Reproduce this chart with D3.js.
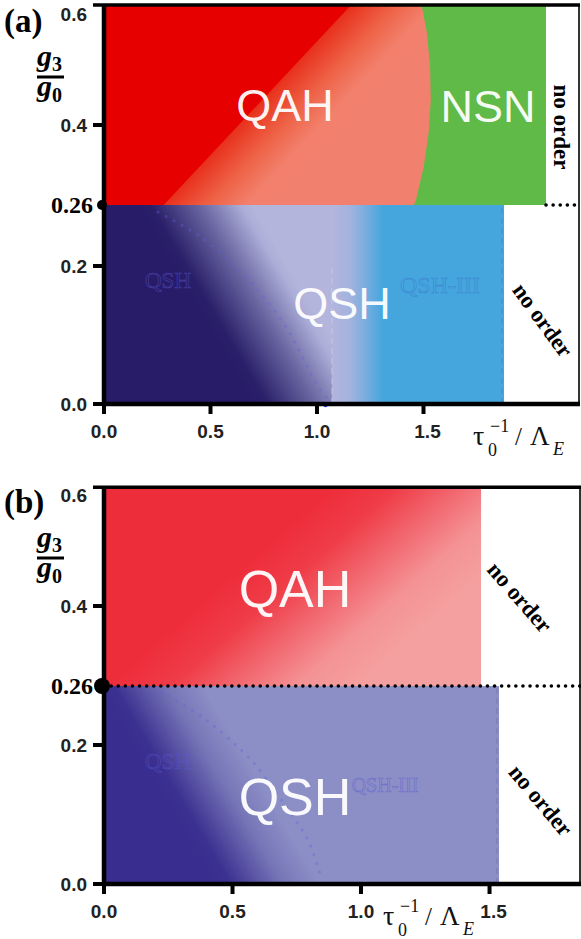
<!DOCTYPE html>
<meta charset="utf-8">
<style>
body { margin: 0; background: #fff; }
text { font-family: "Liberation Sans", Arial, sans-serif; }
.serif { font-family: "Liberation Serif", "Times New Roman", serif; }
</style>
<body>
<svg id="chart" width="581" height="939"></svg>
<script src="https://cdn.jsdelivr.net/npm/d3@7"></script>
<script>

// tick values shared by both panels
var xTicks = [0, 0.5, 1.0, 1.5];
var yTicks = [0, 0.2, 0.4, 0.6];
var gCrit = 0.26;

// panel (a): phase boundaries
var aRedEdge = [[0.28, 0.26], [1.16, 0.616]];
var aQahNsnEdge = [[1.455, 0.26], [1.465, 0.269], [1.501, 0.327], [1.524, 0.386],
                   [1.534, 0.445], [1.531, 0.505], [1.516, 0.566], [1.496, 0.607], [1.49, 0.616]];
var aNsnEnd = 2.075;
var aQshEnd = 1.07;
var aQsh3Full = 1.31;
var aQsh3End = 1.878;
var aQshDots = [[0.254, 0.253], [0.408, 0.235], [0.502, 0.221], [0.634, 0.194], [0.751, 0.155],
                [0.864, 0.107], [0.939, 0.064], [1.005, 0.025], [1.056, 0.006]];

// panel (b)
var bQahEnd = 1.467;
var bQshEnd = 1.537;
var bQshDots = [[0.222, 0.254], [0.389, 0.227], [0.533, 0.193], [0.599, 0.167],
                [0.739, 0.095], [0.794, 0.063], [0.844, 0.01]];

var svg = d3.select("#chart");
var defs = svg.append("defs");

function gradient(id, p0, p1, stops) {
  var g = defs.append("linearGradient").attr("id", id)
    .attr("gradientUnits", "userSpaceOnUse")
    .attr("x1", p0[0]).attr("y1", p0[1]).attr("x2", p1[0]).attr("y2", p1[1]);
  stops.forEach(function(s) {
    g.append("stop").attr("offset", s[0]).attr("stop-color", s[1]);
  });
}

function makeScales(p) {
  var x = d3.scaleLinear().domain([0, p.xMax]).range(p.xRange);
  var y = d3.scaleLinear().domain([0, 0.2, 0.26, 0.4, 0.6]).range(p.yRange);
  return {x: x, y: y};
}

var line = function(s) {
  return d3.line().x(function(d) { return s.x(d[0]); }).y(function(d) { return s.y(d[1]); });
};

function rect(g, s, x0, x1, y0, y1, fill) {
  g.append("rect")
    .attr("x", s.x(x0)).attr("width", s.x(x1) - s.x(x0))
    .attr("y", s.y(y1)).attr("height", s.y(y0) - s.y(y1))
    .attr("fill", fill);
}

function frame(g, s, p) {
  var x0 = s.x(0), x1 = s.x(p.xMax), y0 = s.y(0), yTop = s.y(p.yMax);

  // dotted line at g3/g0 = 0.26
  g.append("line")
    .attr("x1", s.x(p.dotFrom)).attr("x2", x1)
    .attr("y1", s.y(gCrit)).attr("y2", s.y(gCrit))
    .attr("stroke", "#000").attr("stroke-width", 3.5)
    .attr("stroke-linecap", "round").attr("stroke-dasharray", "0.1 7");

  // frame
  g.append("line").attr("x1", x1).attr("x2", x1).attr("y1", yTop).attr("y2", y0)
    .attr("stroke", "#000").attr("stroke-width", 1.6);
  g.append("line").attr("x1", x0 - 11).attr("x2", x1 + 1).attr("y1", yTop).attr("y2", yTop)
    .attr("stroke", "#000").attr("stroke-width", 3.5);
  g.append("line").attr("x1", x0).attr("x2", x0).attr("y1", yTop).attr("y2", y0 + 2)
    .attr("stroke", "#000").attr("stroke-width", 4.5);
  g.append("line").attr("x1", x0 - 2).attr("x2", x1 + 1).attr("y1", y0).attr("y2", y0)
    .attr("stroke", "#000").attr("stroke-width", 4.5);

  // x ticks
  xTicks.forEach(function(t) {
    g.append("line").attr("x1", s.x(t)).attr("x2", s.x(t)).attr("y1", y0).attr("y2", y0 + 10)
      .attr("stroke", "#000").attr("stroke-width", 4);
    g.append("text").attr("x", s.x(t) + (p.xLabelShift[t] || 0)).attr("y", y0 + 34)
      .attr("text-anchor", "middle").attr("font-size", 19).attr("font-weight", "bold")
      .attr("fill", "#222").text(d3.format(".1f")(t));
  });

  // y ticks
  yTicks.forEach(function(t) {
    if (t < 0.6) {
      g.append("line").attr("x1", x0 - 11).attr("x2", x0).attr("y1", s.y(t)).attr("y2", s.y(t))
        .attr("stroke", "#000").attr("stroke-width", 4);
    }
    g.append("text").attr("x", x0 - 17).attr("y", s.y(t) + 7)
      .attr("text-anchor", "end").attr("font-size", 19).attr("font-weight", "bold")
      .attr("fill", "#222").text(d3.format(".1f")(t));
  });

  // critical coupling marker
  g.append("circle").attr("cx", x0 - 2).attr("cy", s.y(gCrit)).attr("r", p.dotR).attr("fill", "#000");
  g.append("text").attr("class", "serif").attr("x", x0 - 11).attr("y", s.y(gCrit) + 8)
    .attr("text-anchor", "end").attr("font-size", 24).attr("font-weight", "bold").text("0.26");

  // panel letter
  var yT = s.y(0.6);
  g.append("text").attr("class", "serif").attr("x", 4).attr("y", yT + 18)
    .attr("font-size", 33).attr("font-weight", "bold").text(p.letter);

  // g3 / g0
  var fr = g.append("g");
  fr.append("text").attr("class", "serif").attr("x", 37).attr("y", yT + 52)
    .attr("font-size", 30).attr("font-style", "italic").attr("font-weight", "bold").text("g");
  fr.append("text").attr("class", "serif").attr("x", 52).attr("y", yT + 57)
    .attr("font-size", 20).attr("font-weight", "bold").text("3");
  fr.append("line").attr("x1", 37).attr("x2", 64).attr("y1", yT + 63).attr("y2", yT + 63)
    .attr("stroke", "#000").attr("stroke-width", 3);
  fr.append("text").attr("class", "serif").attr("x", 37).attr("y", yT + 82)
    .attr("font-size", 30).attr("font-style", "italic").attr("font-weight", "bold").text("g");
  fr.append("text").attr("class", "serif").attr("x", 52).attr("y", yT + 88)
    .attr("font-size", 20).attr("font-weight", "bold").text("0");

  // x title: tau_0^-1 / Lambda_E
  var tx = p.titleX, ty = y0 + 41;
  var tt = g.append("g").attr("fill", "#111");
  tt.append("text").attr("class", "serif").attr("x", tx).attr("y", ty).attr("font-size", 28).text("τ");
  tt.append("text").attr("class", "serif").attr("x", tx + 17).attr("y", ty - 13).attr("font-size", 18).text("−1");
  tt.append("text").attr("class", "serif").attr("x", tx + 15).attr("y", ty + 11).attr("font-size", 18).text("0");
  tt.append("text").attr("class", "serif").attr("x", tx + 42).attr("y", ty).attr("font-size", 25).text("/");
  tt.append("text").attr("class", "serif").attr("x", tx + 57).attr("y", ty).attr("font-size", 27).text("Λ");
  tt.append("text").attr("class", "serif").attr("x", tx + 80).attr("y", ty + 10).attr("font-size", 18)
    .attr("font-style", "italic").text("E");
}

function bigLabel(g, txt, x, y, size) {
  g.append("text").attr("x", x).attr("y", y).attr("text-anchor", "middle")
    .attr("font-size", size).attr("fill", "#fff").attr("fill-opacity", 0.95).text(txt);
}
function ghostLabel(g, txt, x, y, size, color) {
  g.append("text").attr("class", "serif").attr("x", x).attr("y", y).attr("text-anchor", "middle")
    .attr("font-size", size).attr("fill", "none").attr("stroke", color)
    .attr("stroke-width", 0.7).attr("stroke-opacity", 0.55).text(txt);
}
function noOrder(g, x, y, angle) {
  g.append("text").attr("class", "serif")
    .attr("transform", "translate(" + x + "," + y + ") rotate(" + angle + ")")
    .attr("text-anchor", "middle").attr("dy", "0.35em")
    .attr("font-size", 23).attr("font-weight", "bold").text("no order");
}
function dots(g, s, pts, color) {
  g.append("path").attr("d", line(s).curve(d3.curveCatmullRom)(pts))
    .attr("fill", "none").attr("stroke", color).attr("stroke-width", 3)
    .attr("stroke-opacity", 0.35).attr("stroke-linecap", "round").attr("stroke-dasharray", "0.1 9");
}
function vdash(g, s, xv, y0, y1, color) {
  g.append("line").attr("x1", s.x(xv)).attr("x2", s.x(xv)).attr("y1", s.y(y0)).attr("y2", s.y(y1))
    .attr("stroke", color).attr("stroke-width", 1).attr("stroke-dasharray", "6 4").attr("stroke-opacity", 0.6);
}

// ---------------- panel (a) ----------------
var pa = {xMax: 2.23, yMax: 0.616, xRange: [104, 579], yRange: [404, 266, 205, 125, 14],
          letter: "(a)", dotR: 5, dotFrom: aNsnEnd, titleX: 473, xLabelShift: {1.5: 4}};
var sa = makeScales(pa);
var ga = svg.append("g");

// gradients for panel (a)
(function() {
  var e0 = [sa.x(aRedEdge[0][0]), sa.y(aRedEdge[0][1])];
  var e1 = [sa.x(aRedEdge[1][0]), sa.y(aRedEdge[1][1])];
  var dx = e1[0] - e0[0], dy = e1[1] - e0[1], len = Math.hypot(dx, dy);
  var n = [-dy / len, dx / len];
  if (n[0] < 0) n = [-n[0], -n[1]];
  gradient("aQah", e0, [e0[0] + n[0] * 75, e0[1] + n[1] * 75],
    [[0, "#e8301c"], [0.45, "#ee6448"], [0.8, "#f2806c"], [1, "#f2806e"]]);
  var q0 = [sa.x(0.45), sa.y(0.132)];
  gradient("aQsh", q0, [q0[0] + 0.862 * 100, q0[1] - 0.507 * 100],
    [[0, "#281c68"], [0.12, "#2a1f69"], [0.55, "#6a67a2"], [0.9, "#acaed8"], [1, "#b3b5dc"]]);
  gradient("aBlue", [sa.x(aQshEnd), 0], [sa.x(aQsh3Full), 0],
    [[0, "#b3b5dc"], [0.35, "#a3b3de"], [0.7, "#74acdf"], [1, "#45a6de"]]);
})();

rect(ga, sa, 0, aQsh3End, 0, gCrit, "url(#aQsh)");
rect(ga, sa, aQshEnd, aQsh3End, 0, gCrit, "url(#aBlue)");
rect(ga, sa, 0, aNsnEnd, gCrit, pa.yMax, "#5fba47");
ga.append("path")
  .attr("d", line(sa)([[0, gCrit]].concat(aQahNsnEdge, [[0, pa.yMax]])) + "Z")
  .attr("fill", "url(#aQah)");
ga.append("path")
  .attr("d", line(sa)([[0, gCrit]].concat(aRedEdge, [[0, pa.yMax]])) + "Z")
  .attr("fill", "#e60000");

dots(ga, sa, aQshDots, "#6060e0");
vdash(ga, sa, aQshEnd, 0, 0.2, "#d0d0f0");
vdash(ga, sa, aQsh3End - 0.01, 0, gCrit, "#3a80c0");
ga.append("circle").attr("cx", sa.x(1.04)).attr("cy", sa.y(0) + 1).attr("r", 2.2).attr("fill", "#2040ff");

ghostLabel(ga, "QSH", 168, 288, 23, "#5a5ad0");
ghostLabel(ga, "QSH-III", 440, 293, 24, "#3a70c8");
bigLabel(ga, "QAH", 285, 121, 45);
bigLabel(ga, "NSN", 488, 122, 45);
bigLabel(ga, "QSH", 342, 319, 45);
noOrder(ga, 562, 127, 90);
noOrder(ga, 543, 320, 54);
frame(ga, sa, pa);

// ---------------- panel (b) ----------------
var pb = {xMax: 1.852, yMax: 0.614, xRange: [104, 580], yRange: [884, 745, 686, 606, 495],
          letter: "(b)", dotR: 8, dotFrom: 0, titleX: 383, xLabelShift: {1.5: 4}};
var sb = makeScales(pb);
var gb = svg.append("g");

gradient("bQah", [250, 560], [360, 685],
  [[0, "#ee2d3a"], [0.25, "#ef3c48"], [0.75, "#f49295"], [1, "#f5a0a0"]]);
gradient("bQsh", [sb.x(0.33), sb.y(0.065)], [sb.x(0.33) + 0.863 * 90, sb.y(0.065) - 0.51 * 90],
  [[0, "#392d8f"], [0.15, "#3c3191"], [0.65, "#7676b7"], [1, "#8c8ec6"]]);

rect(gb, sb, 0, bQshEnd, 0, gCrit, "url(#bQsh)");
rect(gb, sb, 0, bQahEnd, gCrit, pb.yMax, "url(#bQah)");
dots(gb, sb, bQshDots, "#6060d8");
vdash(gb, sb, bQshEnd - 0.008, 0, gCrit, "#6a6aa8");

ghostLabel(gb, "QSH", 168, 769, 23, "#5a5ad0");
ghostLabel(gb, "QSH-III", 385, 792, 20, "#5a5ad0");
bigLabel(gb, "QAH", 295, 607, 52);
bigLabel(gb, "QSH", 295, 815, 52);
noOrder(gb, 520, 597, 49);
noOrder(gb, 541, 800, 50);
frame(gb, sb, pb);

</script>
</body>
